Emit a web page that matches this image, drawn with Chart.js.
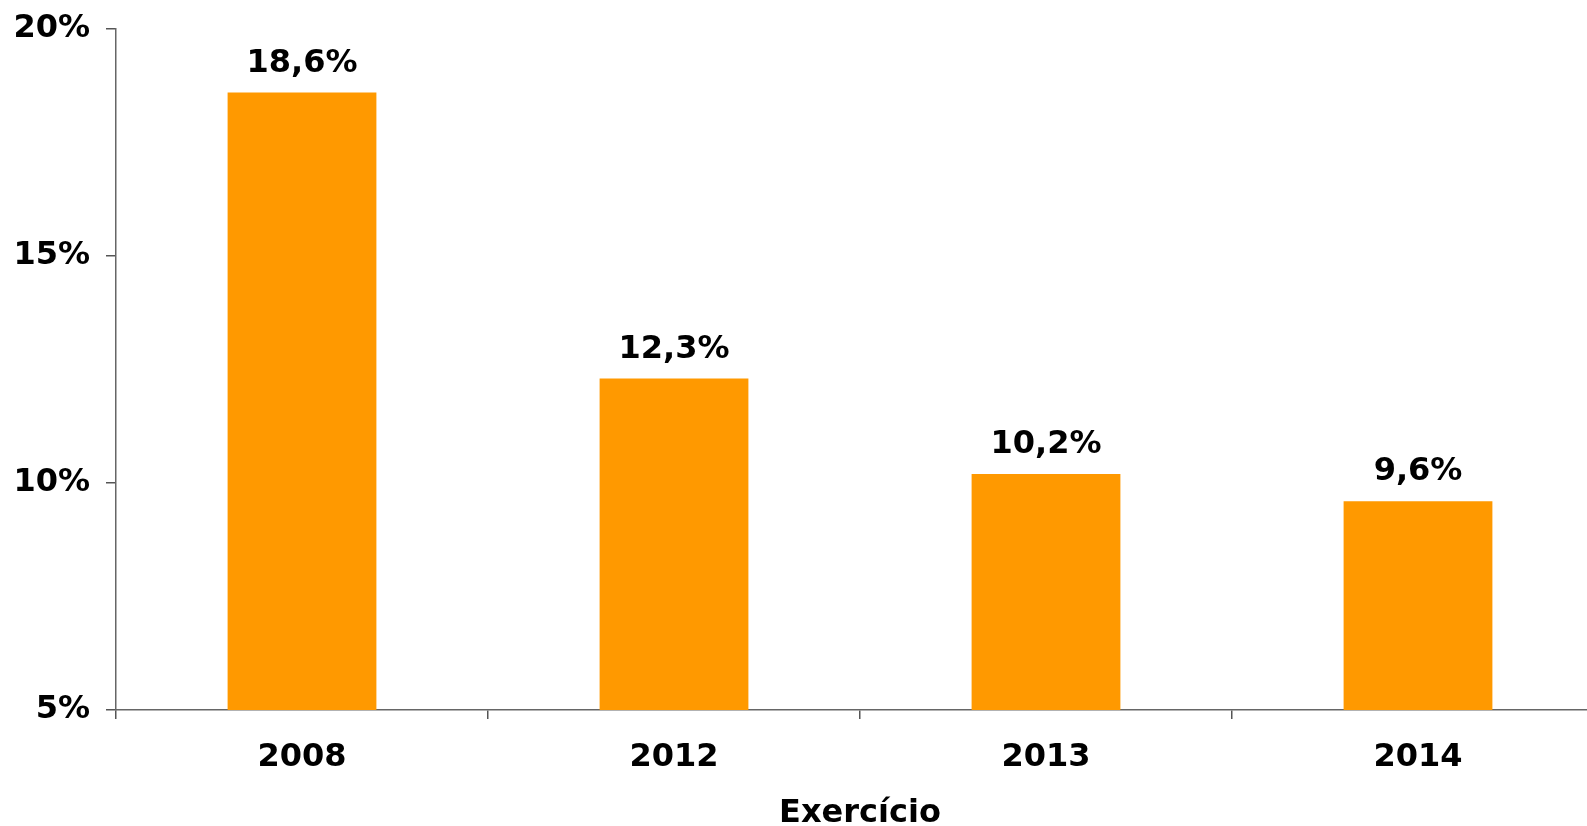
<!DOCTYPE html>
<html>
<head>
<meta charset="utf-8">
<script src="https://cdn.jsdelivr.net/npm/chart.js@4/dist/chart.umd.min.js"></script>
<style>
  html, body { margin: 0; padding: 0; background: #fff; overflow: hidden; }
  #wrap { width: 1620px; height: 826px; position: relative; }
</style>
</head>
<body>
<div id="wrap"><canvas id="taxaChart"></canvas></div>
<script>
const categories = ["2008", "2012", "2013", "2014"];
const values = [18.6, 12.3, 10.2, 9.6];
const yTicks = [5, 10, 15, 20];

const FONT = "'DejaVu Sans', sans-serif";
const FSIZE = 32;

// value labels above the bars, comma as decimal separator
const barLabels = {
  id: "barLabels",
  afterDatasetsDraw(chart) {
    const c = chart.ctx;
    const meta = chart.getDatasetMeta(0);
    c.save();
    c.font = "bold " + FSIZE + "px " + FONT;
    c.fillStyle = "#000";
    c.textAlign = "center";
    c.textBaseline = "alphabetic";
    meta.data.forEach((bar, i) => {
      const txt = values[i].toFixed(1).replace(".", ",") + "%";
      c.fillText(txt, bar.x, bar.y - 21);
    });
    c.restore();
  },
};

const ctx = document.getElementById("taxaChart").getContext("2d");
const taxaChart = new Chart(ctx, {
  type: "bar",
  data: {
    labels: categories,
    datasets: [
      {
        data: values,
        backgroundColor: "#ff9900",
        borderWidth: 0,
        categoryPercentage: 1,
        barPercentage: 0.4,
      },
    ],
  },
  options: {
    responsive: true,
    maintainAspectRatio: false,
    animation: false,
    layout: { padding: { top: 29, right: 16, left: 0, bottom: 0 } },
    scales: {
      x: {
        offset: true,
        grid: {
          offset: true,
          drawOnChartArea: false,
          drawTicks: true,
          tickLength: 9,
          color: "#555",
          lineWidth: 1.5,
        },
        border: { color: "#666", width: 1.5 },
        ticks: {
          color: "#000",
          padding: 19,
          font: { family: FONT, size: FSIZE, weight: "bold" },
        },
        title: {
          display: true,
          text: "Exercício",
          color: "#000",
          padding: { top: 0, bottom: 0 },
          font: { family: FONT, size: FSIZE, weight: "bold", lineHeight: 0.8 },
        },
        afterFit(scale) {
          scale.height = 116;
          scale.paddingLeft = 0;
          scale.paddingRight = 0;
        },
      },
      y: {
        min: 5,
        max: 20,
        afterBuildTicks(scale) {
          scale.ticks = yTicks.map((v) => ({ value: v }));
        },
        grid: {
          drawOnChartArea: false,
          drawTicks: true,
          tickLength: 10,
          color: "#555",
          lineWidth: 1.5,
        },
        border: { color: "#666", width: 1.5 },
        ticks: {
          color: "#000",
          padding: 16,
          font: { family: FONT, size: FSIZE, weight: "bold" },
          callback: (v) => v + "%",
        },
        afterFit(scale) {
          scale.width = 116;
          scale.paddingTop = 0;
          scale.paddingBottom = 0;
        },
      },
    },
    plugins: {
      legend: { display: false },
      tooltip: { enabled: false },
    },
  },
  plugins: [barLabels],
});
</script>
</body>
</html>
